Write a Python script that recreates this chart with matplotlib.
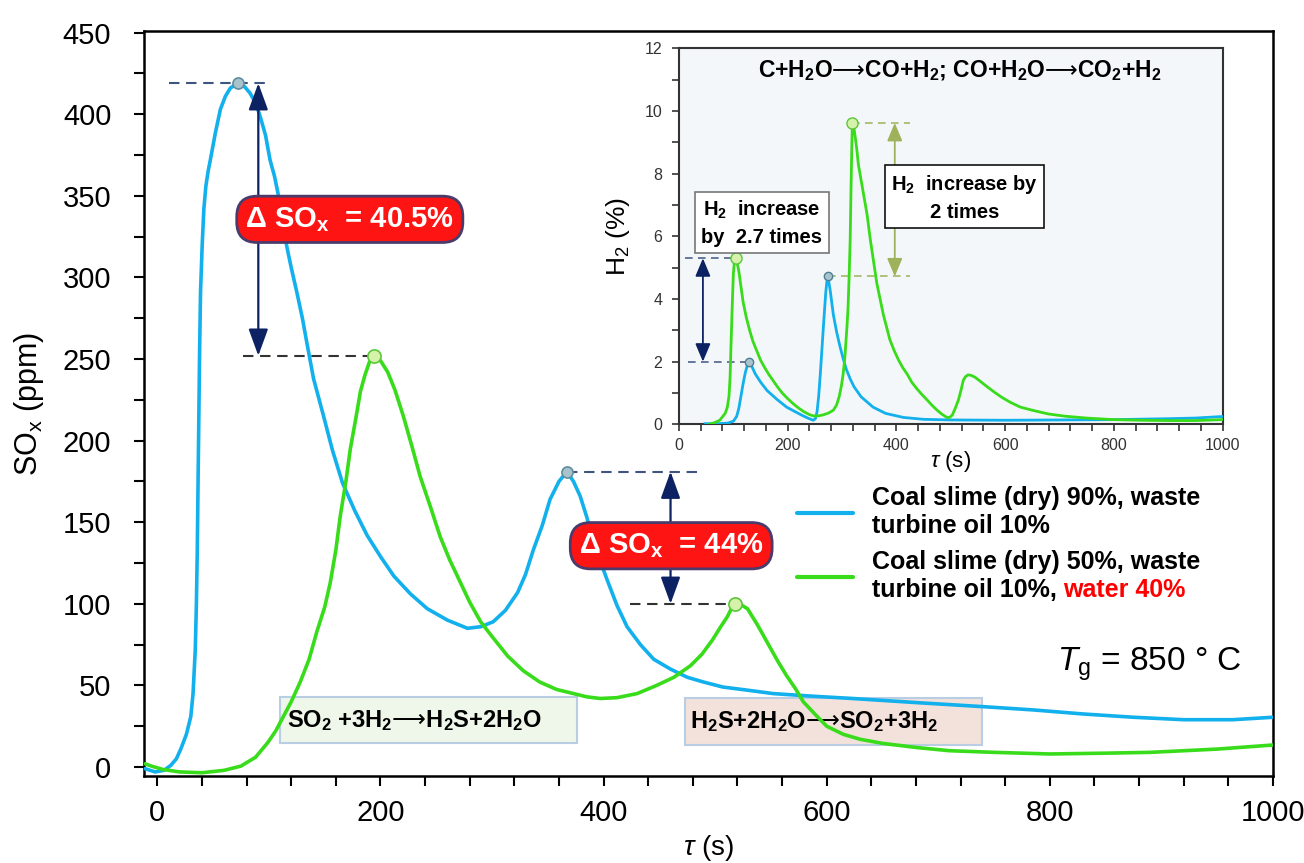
import numpy as np
import matplotlib.pyplot as plt
from matplotlib.patches import Rectangle

plt.rcParams['font.family'] = ['Liberation Sans', 'DejaVu Sans']
plt.rcParams['mathtext.fontset'] = 'custom'
plt.rcParams['mathtext.rm'] = 'Liberation Sans'
plt.rcParams['mathtext.it'] = 'Liberation Sans:italic'
plt.rcParams['mathtext.bf'] = 'Liberation Sans:bold'
plt.rcParams['mathtext.sf'] = 'DejaVu Sans'   # used only for the reaction arrows

# --- SOx (ppm) vs time ---
t_blue = [-11, -2, 6, 12, 17, 21, 26, 30, 32, 34, 35, 35.8, 36.5, 37.2, 37.9, 38.7, 40.2, 41.7, 43.5, 45.5,
          47.5, 52, 56.5, 61, 65.4, 72, 78, 83, 88, 92, 97, 101, 105, 108, 112, 116, 120, 125, 130, 134,
          140, 149, 157, 166, 177, 188, 200, 212, 227, 242, 260, 278, 290, 301, 312, 323, 330, 337, 345, 352,
          360, 367, 373, 379, 385, 390, 396, 403, 412, 421, 433, 445, 460, 475, 490, 507, 530, 552, 585, 623,
          680, 740, 785, 830, 875, 920, 964, 1000]
so_blue = [-1, -3, -2, 1, 5, 11, 20, 31, 45, 72, 100, 133, 175, 215, 256, 291, 320, 342, 356, 365,
           372, 388.5, 403, 411, 416, 419, 417, 413, 407, 399, 387, 372, 362, 352, 336, 319, 306, 291, 275, 260,
           238, 215, 194, 174, 157, 142, 129, 117, 106, 97, 90, 85, 86, 89, 96, 107, 118, 133, 148, 164,
           175, 181, 175, 166, 153, 140, 128, 115, 99, 86, 75, 66, 60, 55, 52, 49, 47, 45, 43.5, 42,
           39.5, 37, 35, 32.5, 30.5, 29, 29, 30.5]

t_green = [-11, -5, 5, 20, 40, 60, 75, 88, 99, 106, 113, 120, 128, 136, 143, 150, 155, 160, 164, 169,
           173, 178, 182, 186, 190, 194, 200, 206.5, 213, 220.5, 228, 235.6, 245, 253.6, 262, 271.7, 280, 289.8, 300, 314,
           328, 343, 358, 373, 385, 397, 412, 430, 447.5, 463, 477.7, 488, 497.7, 505, 510.8, 514.5, 518, 523, 529, 538,
           547, 556, 564, 572, 579, 590, 600, 615, 630, 650, 680, 710, 750, 800, 850, 890, 950, 1000]
so_green = [2, 0.5, -1.5, -3, -3.5, -2, 0.6, 6, 15, 22, 31, 40, 52, 66, 83, 98, 113, 133, 154, 175,
            195, 214, 230, 240, 248, 252, 249, 242, 231, 215, 197, 178, 159, 141, 127, 113, 101, 89, 80, 68,
            59, 52, 47.5, 45, 43, 42, 42.5, 45, 50, 55, 62, 69, 78, 86, 92, 97, 100, 99.5, 97, 87,
            76, 65, 56, 48, 40, 32, 25, 20, 17, 14.5, 12, 10, 9, 8, 8.5, 9, 11, 13.5]

# --- inset: H2 (%) vs time ---
ti_blue = [48, 70, 90, 100, 106, 110, 114, 118, 122, 126, 129, 134, 140, 150, 162, 180, 198, 212, 225, 237,
           247, 251, 254, 257, 260, 263, 266, 268, 270, 272, 274, 278, 284, 290, 296, 302, 308, 315, 322, 335,
           357, 380, 413, 450, 500, 600, 700, 800, 900, 950, 1000]
h2_blue = [0.02, 0.02, 0.04, 0.1, 0.25, 0.5, 0.9, 1.3, 1.65, 1.9, 2.0, 1.85, 1.62, 1.35, 1.08, 0.8, 0.55, 0.42, 0.3, 0.2,
           0.13, 0.18, 0.4, 0.9, 1.6, 2.4, 3.2, 3.7, 4.2, 4.55, 4.72, 4.3, 3.5, 2.95, 2.5, 2.1, 1.75, 1.45, 1.2, 0.88,
           0.55, 0.35, 0.22, 0.16, 0.14, 0.13, 0.14, 0.15, 0.18, 0.2, 0.25]

ti_green = [55, 65, 75, 85, 89, 92, 94, 96, 98, 100, 102, 104, 107, 110, 114, 118, 124, 130, 136, 143,
            150, 158, 165, 173, 181, 190, 200, 210, 220, 230, 240, 247, 256, 265, 275, 284, 290, 295, 299, 302,
            305, 307, 309, 311, 313, 315, 316.5, 318, 319, 321, 324, 327, 330, 338, 346, 352, 358, 364, 370, 376,
            382, 388, 396, 404, 412, 420, 428, 437, 447, 457, 466, 475, 484, 493, 498, 503, 508, 514, 519, 523,
            527, 532, 538, 545, 556, 567, 580, 595, 610, 628, 650, 680, 710, 750, 800, 850, 900, 950, 1000]
h2_green = [0.0, 0.05, 0.13, 0.35, 0.55, 0.9, 1.5, 2.7, 3.8, 4.8, 5.2, 5.3, 5.15, 4.9, 4.4, 3.9, 3.4, 3.0, 2.65, 2.35,
            2.05, 1.8, 1.6, 1.4, 1.2, 1.0, 0.82, 0.66, 0.52, 0.4, 0.31, 0.27, 0.27, 0.3, 0.36, 0.45, 0.62, 0.9, 1.25, 1.6,
            2.1, 2.6, 3.1, 3.7, 4.7, 5.9, 7.5, 8.9, 9.62, 9.55, 9.2, 8.8, 8.3, 7.5, 6.7, 5.9, 5.2, 4.5, 4.0, 3.5,
            3.1, 2.7, 2.35, 2.05, 1.8, 1.6, 1.35, 1.15, 0.95, 0.77, 0.6, 0.45, 0.32, 0.22, 0.22, 0.3, 0.5, 0.77, 1.1, 1.4,
            1.52, 1.58, 1.56, 1.5, 1.35, 1.2, 1.03, 0.85, 0.7, 0.55, 0.45, 0.33, 0.26, 0.2, 0.15, 0.13, 0.12, 0.12, 0.15]

legend_labels = ["Coal slime (dry) 90%, waste\nturbine oil 10%",
                 "Coal slime (dry) 50%, waste\nturbine oil 10%,"]
legend_red = "water 40%"

BLUE = '#12b0ec'
GREEN = '#38dc1a'
NAVY = '#0d2262'
OLIVE = '#9db25a'
ARROW = '$\\mathsf{\u27f6}$'


def two_peaks(x, y):
    # two highest local maxima, returned in time order
    y = np.asarray(y, float)
    idx = [i for i in range(1, len(y) - 1) if y[i] >= y[i - 1] and y[i] > y[i + 1]]
    idx = sorted(sorted(idx, key=lambda i: -y[i])[:2])
    return [(x[i], y[i]) for i in idx]


fig = plt.figure(figsize=(13.04, 8.63), dpi=100)
ax = fig.add_axes([0.1104, 0.1008, 0.8658, 0.8633])

l1, = ax.plot(t_blue, so_blue, color=BLUE, lw=2.6, zorder=3, solid_capstyle='round')
l2, = ax.plot(t_green, so_green, color=GREEN, lw=2.6, zorder=3, solid_capstyle='round')

bp = two_peaks(t_blue, so_blue)
gp = two_peaks(t_green, so_green)
ax.plot([p[0] for p in bp], [p[1] for p in bp], 'o', ms=8, mfc='#a9c3cc', mec='#5f8ea0', mew=1.2, zorder=4)
ax.plot([p[0] for p in gp], [p[1] for p in gp], 'o', ms=9.5, mfc='#d6f2aa', mec='#58c83a', mew=1.2, zorder=4)

ax.set_xlim(-12, 1000)
ax.set_ylim(-5.5, 451)
ax.set_xticks(np.arange(0, 1001, 200))
ax.set_xticks(np.arange(0, 1001, 40), minor=True)
ax.set_yticks(np.arange(0, 451, 50))
ax.set_yticks(np.arange(0, 451, 25), minor=True)
ax.tick_params(which='both', direction='out', length=7.5, width=1.5, color='black')
ax.tick_params(axis='y', labelsize=21, pad=16)
ax.tick_params(axis='x', labelsize=21, pad=9)
for s in ax.spines.values():
    s.set_linewidth(1.8)

ax.set_ylabel('SO$_\\mathrm{x}$ (ppm)', fontsize=22)
ax.yaxis.set_label_coords(-0.087, 0.5)
ax.set_xlabel('$\\tau$ (s)', fontsize=20)
ax.xaxis.set_label_coords(0.5, -0.077)

# delta SOx annotations
dash = (0, (5, 3.2))
ax.plot([10, 99.5], [bp[0][1]] * 2, ls=dash, color='#3f5580', lw=1.5, zorder=2)
ax.plot([77, gp[0][0]], [gp[0][1]] * 2, ls=dash, color='#333333', lw=1.5, zorder=2)
ax.plot([bp[1][0], 489], [bp[1][1]] * 2, ls=dash, color='#3f5580', lw=1.5, zorder=2)
ax.plot([424, gp[1][0]], [gp[1][1]] * 2, ls=dash, color='#333333', lw=1.5, zorder=2)

arr = dict(arrowstyle='<|-|>,head_length=0.55,head_width=0.2', color=NAVY, lw=1.6,
           mutation_scale=30, shrinkA=0, shrinkB=0)
ax.annotate('', xy=(90.5, gp[0][1]), xytext=(90.5, bp[0][1]), arrowprops=arr, zorder=4)
ax.annotate('', xy=(460, gp[1][1]), xytext=(460, bp[1][1]), arrowprops=arr, zorder=4)

red_box = dict(boxstyle='round,pad=0.3,rounding_size=0.7', fc='#ff1414', ec='#4a3b6b', lw=2)
ax.text(172.5, 335.6, 'Δ SO$_\\mathbf{x}$  = 40.5%', ha='center', va='center', color='white',
        fontsize=21, fontweight='bold', bbox=red_box, zorder=6)
ax.text(460.6, 135.6, 'Δ SO$_\\mathbf{x}$  = 44%', ha='center', va='center', color='white',
        fontsize=21, fontweight='bold', bbox=red_box, zorder=6)

# reaction boxes
ax.add_patch(Rectangle((0.1205, 0.0443), 0.263, 0.0617, transform=ax.transAxes,
                       fc='#eef7ea', ec='#b9cde3', lw=1.5, zorder=1))
ax.text(0.127, 0.075, 'SO$_\\mathbf{2}$ +3H$_\\mathbf{2}$' + ARROW + 'H$_\\mathbf{2}$S+2H$_\\mathbf{2}$O',
        transform=ax.transAxes, va='center', ha='left', fontsize=17, fontweight='bold', zorder=2)
ax.add_patch(Rectangle((0.479, 0.0416), 0.263, 0.0631, transform=ax.transAxes,
                       fc='#f3e1dc', ec='#b9cde3', lw=1.5, zorder=1))
ax.text(0.484, 0.073, 'H$_\\mathbf{2}$S+2H$_\\mathbf{2}$O' + ARROW + 'SO$_\\mathbf{2}$+3H$_\\mathbf{2}$',
        transform=ax.transAxes, va='center', ha='left', fontsize=17, fontweight='bold', zorder=2)

ax.text(806, 63, '$T_\\mathrm{g}$ = 850 ° C', fontsize=24, va='center', ha='left')

leg = ax.legend([l1, l2], legend_labels, loc='upper left', bbox_to_anchor=(0.5784, 0.3893),
                frameon=False, borderpad=0, borderaxespad=0, handlelength=2.25, handletextpad=0.75,
                labelspacing=0.5, prop=dict(size=18, weight='bold'))
for h in leg.legend_handles:
    h.set_linewidth(3)

# --- inset ---
axi = fig.add_axes([0.5207, 0.5083, 0.4168, 0.4357])
axi.set_facecolor('#f3f7f9')
axi.plot(ti_blue, h2_blue, color=BLUE, lw=2, zorder=3)
axi.plot(ti_green, h2_green, color=GREEN, lw=2, zorder=3)
ibp = two_peaks(ti_blue, h2_blue)
igp = two_peaks(ti_green, h2_green)
axi.plot([p[0] for p in ibp], [p[1] for p in ibp], 'o', ms=6, mfc='#a9c3cc', mec='#4f7f93', mew=1, zorder=4)
axi.plot([p[0] for p in igp], [p[1] for p in igp], 'o', ms=8, mfc='#d6f2aa', mec='#58c83a', mew=1, zorder=4)

axi.set_xlim(0, 1000)
axi.set_ylim(0, 12)
axi.set_xticks(np.arange(0, 1001, 200))
axi.set_xticks(np.arange(0, 1001, 40), minor=True)
axi.set_yticks(np.arange(0, 13, 2))
axi.set_yticks(np.arange(0, 13, 1), minor=True)
axi.tick_params(which='both', direction='out', length=5, width=1.2, color='#333333',
                labelsize=11.5, labelcolor='#333333')
axi.tick_params(axis='y', pad=7)
axi.tick_params(axis='x', pad=5)
for s in axi.spines.values():
    s.set_linewidth(1.5)
    s.set_color('#333333')
axi.set_ylabel('H$_2$ (%)', fontsize=19)
axi.yaxis.set_label_coords(-0.0865, 0.5)
axi.set_xlabel('$\\tau$ (s)', fontsize=16)
axi.xaxis.set_label_coords(0.5, -0.065)

idash = (0, (5, 3.5))
axi.plot([11, igp[0][0]], [igp[0][1]] * 2, ls=idash, color='#3f5580', lw=1.1, zorder=2)
axi.plot([17, ibp[0][0]], [ibp[0][1]] * 2, ls=idash, color='#3f5580', lw=1.1, zorder=2)
axi.plot([igp[1][0], 425], [igp[1][1]] * 2, ls=idash, color=OLIVE, lw=1.1, zorder=2)
axi.plot([ibp[1][0], 425], [ibp[1][1]] * 2, ls=idash, color=OLIVE, lw=1.1, zorder=2)
iarr = dict(arrowstyle='<|-|>,head_length=0.5,head_width=0.21', lw=1.3,
            mutation_scale=22, shrinkA=0, shrinkB=0)
axi.annotate('', xy=(44, ibp[0][1]), xytext=(44, igp[0][1]), arrowprops=dict(iarr, color=NAVY))
axi.annotate('', xy=(397, ibp[1][1]), xytext=(397, igp[1][1]), arrowprops=dict(iarr, color=OLIVE))

axi.text(152.7, 6.42, 'H$_\\mathbf{2}$  increase\nby  2.7 times', ha='center', va='center', fontsize=14.5,
         fontweight='bold', linespacing=1.45,
         bbox=dict(boxstyle='square,pad=0.3', fc='white', ec='#777777', lw=1.2), zorder=5)
axi.text(526, 7.24, 'H$_\\mathbf{2}$  increase by\n2 times', ha='center', va='center', fontsize=14.5,
         fontweight='bold', linespacing=1.45,
         bbox=dict(boxstyle='square,pad=0.3', fc='white', ec='#111111', lw=1.2), zorder=5)
axi.text(517, 11.3, 'C+H$_\\mathbf{2}$O' + ARROW + 'CO+H$_\\mathbf{2}$; CO+H$_\\mathbf{2}$O' + ARROW
         + 'CO$_\\mathbf{2}$+H$_\\mathbf{2}$', ha='center', va='center', fontsize=16.5, fontweight='bold')

# red "water 40%" after the second legend label
fig.canvas.draw()
r = fig.canvas.get_renderer()
lt = leg.get_texts()[1]
bb = lt.get_window_extent(r)
probe = fig.text(0, 0, 'turbine oil 10%,', fontsize=18, fontweight='bold')
w = probe.get_window_extent(r).width
probe.remove()
fig.text((bb.x0 + w + 6) / fig.bbox.width, bb.y0 / fig.bbox.height, legend_red, color='#ff0000',
         fontsize=18, fontweight='bold', ha='left', va='bottom')

fig.savefig('out.png', dpi=100)
